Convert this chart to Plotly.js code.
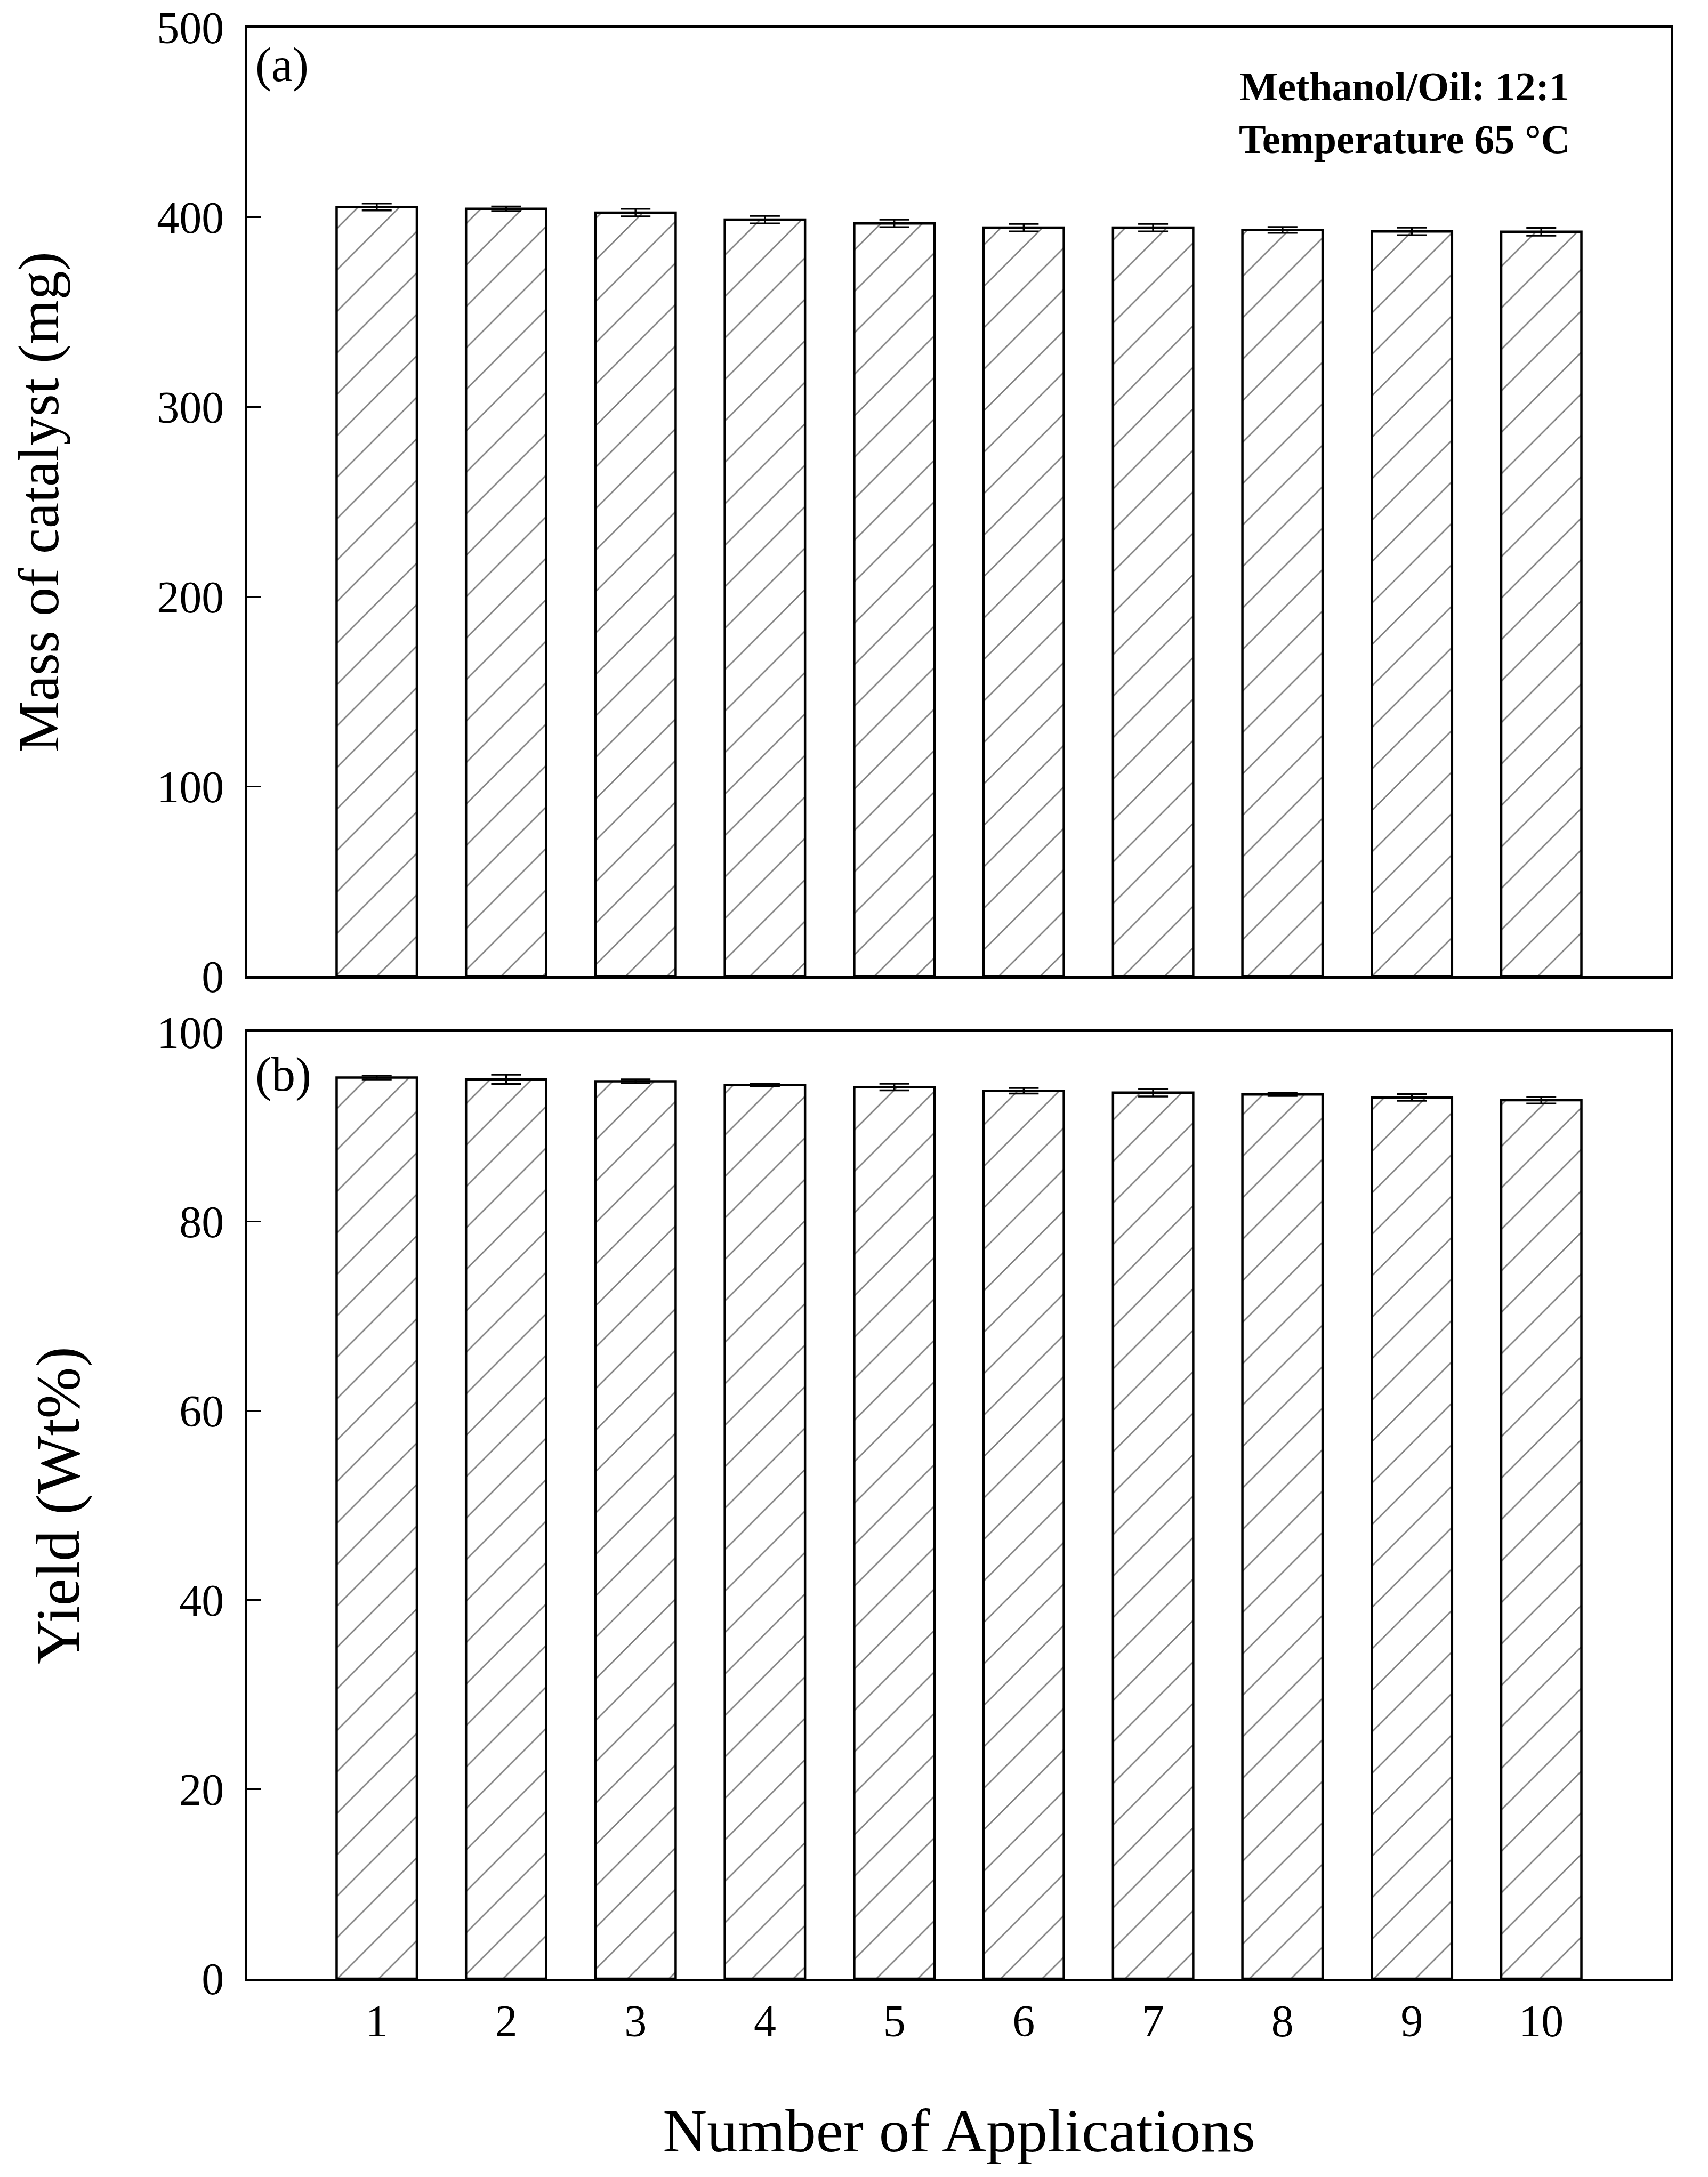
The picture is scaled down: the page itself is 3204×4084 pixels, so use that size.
<!DOCTYPE html>
<html>
<head>
<meta charset="utf-8">
<script src="https://cdn.plot.ly/plotly-3.0.1.min.js"></script>
<style>
  body { margin: 0; background: #fff; }
  #chart { width: 3204px; height: 4084px; }
</style>
</head>
<body>
<div id="chart"></div>
<script>
// number of applications (reuse cycles)
let cycles = [1, 2, 3, 4, 5, 6, 7, 8, 9, 10];

// (a) mass of catalyst recovered, mg
let massValues = [405.5, 404.5, 402.5, 398.8, 396.8, 394.6, 394.6, 393.4, 392.6, 392.4];
let massErrors = [1.8, 1.2, 2.0, 2.0, 2.0, 2.0, 2.0, 1.5, 2.0, 2.0];

// (b) biodiesel yield, wt%
let yieldValues = [95.2, 95.0, 94.8, 94.4, 94.2, 93.8, 93.6, 93.4, 93.1, 92.8];
let yieldErrors = [0.2, 0.5, 0.2, 0.1, 0.35, 0.3, 0.4, 0.15, 0.35, 0.35];

let serif = "Liberation Serif, Times New Roman, serif";

let hatch = {
  shape: "/",
  size: 55,
  solidity: 0.05,
  fgcolor: "black",
  bgcolor: "white",
  fillmode: "overlay"
};

// Trace for panel (a)
let trace1 = {
  x: cycles,
  y: massValues,
  type: "bar",
  width: 0.62,
  marker: { color: "white", pattern: hatch, line: { color: "black", width: 4.5 } },
  error_y: { type: "data", array: massErrors, visible: true, color: "black", thickness: 3.5, width: 28 },
  xaxis: "x",
  yaxis: "y"
};

// Trace for panel (b)
let trace2 = {
  x: cycles,
  y: yieldValues,
  type: "bar",
  width: 0.62,
  marker: { color: "white", pattern: hatch, line: { color: "black", width: 4.5 } },
  error_y: { type: "data", array: yieldErrors, visible: true, color: "black", thickness: 3.5, width: 28 },
  xaxis: "x2",
  yaxis: "y2"
};

let traceData = [trace1, trace2];

let axisLine = {
  showline: true,
  linecolor: "black",
  linewidth: 5,
  mirror: true,
  showgrid: false,
  zeroline: false
};

let layout = {
  width: 3204,
  height: 4084,
  showlegend: false,
  paper_bgcolor: "white",
  plot_bgcolor: "white",
  margin: { l: 464, r: 70, t: 52, b: 372 },
  font: { family: serif, color: "black", size: 82 },
  xaxis: Object.assign({}, axisLine, {
    domain: [0, 1],
    range: [0, 11],
    anchor: "y",
    ticks: "",
    showticklabels: false
  }),
  yaxis: Object.assign({}, axisLine, {
    domain: [0.5139, 1],
    range: [0, 500],
    tickvals: [0, 100, 200, 300, 400, 500],
    ticks: "inside",
    ticklen: 26,
    tickwidth: 3,
    tickcolor: "black",
    ticklabelstandoff: 22,
    tickfont: { family: serif, size: 84 },
    title: { text: "Mass of catalyst (mg)", font: { family: serif, size: 108 }, standoff: 150 }
  }),
  xaxis2: Object.assign({}, axisLine, {
    domain: [0, 1],
    range: [0, 11],
    anchor: "y2",
    tickvals: cycles,
    ticks: "",
    ticklabelstandoff: 2,
    tickfont: { family: serif, size: 84 },
    title: { text: "Number of Applications", font: { family: serif, size: 115 }, standoff: 120 }
  }),
  yaxis2: Object.assign({}, axisLine, {
    domain: [0, 0.4852],
    range: [0, 100],
    tickvals: [0, 20, 40, 60, 80, 100],
    ticks: "inside",
    ticklen: 26,
    tickwidth: 3,
    tickcolor: "black",
    ticklabelstandoff: 22,
    tickfont: { family: serif, size: 84 },
    title: { text: "Yield (Wt%)", font: { family: serif, size: 116 }, standoff: 108 }
  }),
  annotations: [
    { text: "(a)", xref: "paper", yref: "paper", x: 0.005, y: 0.995, xanchor: "left", yanchor: "top",
      showarrow: false, font: { family: serif, size: 90 } },
    { text: "(b)", xref: "paper", yref: "paper", x: 0.005, y: 0.4775, xanchor: "left", yanchor: "top",
      showarrow: false, font: { family: serif, size: 90 } },
    { text: "<b>Methanol/Oil: 12:1</b><br><b>Temperature 65 °C</b>", xref: "paper", yref: "paper",
      x: 0.813, y: 0.982, xanchor: "center", yanchor: "top", align: "center",
      showarrow: false, font: { family: serif, size: 76 } }
  ]
};

// Render the plot
Plotly.newPlot("chart", traceData, layout, { staticPlot: true });
</script>
</body>
</html>
